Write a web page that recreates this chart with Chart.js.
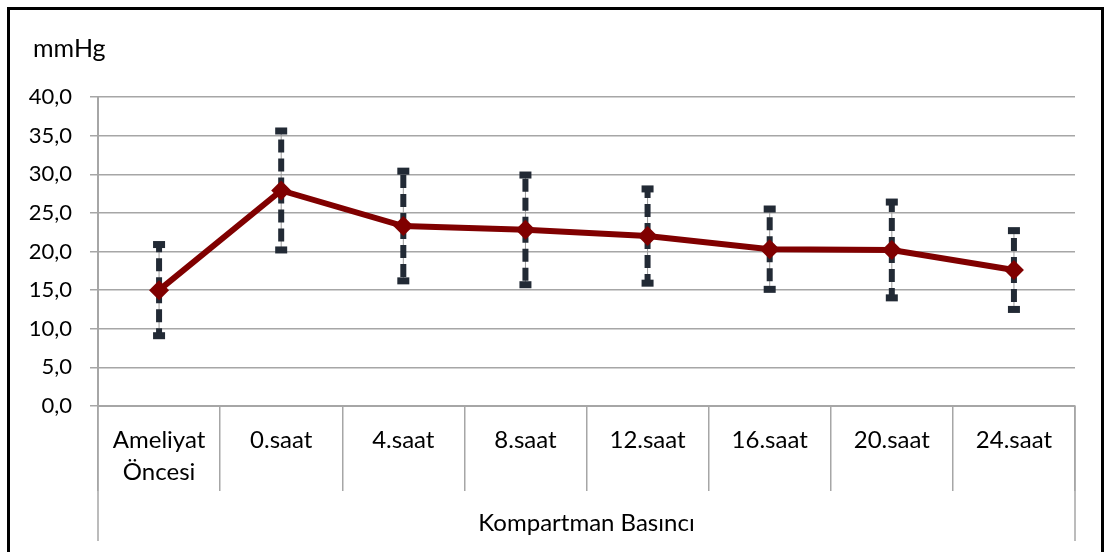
<!DOCTYPE html>
<html>
<head>
<meta charset="utf-8">
<script src="https://cdn.jsdelivr.net/npm/chart.js@4/dist/chart.umd.min.js"></script>
<style>
  html, body { margin: 0; padding: 0; background: #fff; }
  #wrap { width: 1105px; height: 552px; position: relative; }
</style>
</head>
<body>
<div id="wrap"><canvas id="c" width="1105" height="552"></canvas></div>
<script>
// Compartment pressure (mmHg), mean ± SD per time point
const categories = [['Ameliyat', 'Öncesi'], '0.saat', '4.saat', '8.saat', '12.saat', '16.saat', '20.saat', '24.saat'];
const meanValues = [15.0, 27.9, 23.3, 22.8, 22.0, 20.3, 20.2, 17.6];
const sdValues   = [5.9, 7.7, 7.1, 7.1, 6.1, 5.2, 6.2, 5.1];
const yTicks = [0, 5, 10, 15, 20, 25, 30, 35, 40];
const unitLabel = 'mmHg';
const groupLabel = 'Kompartman Basıncı';

const FONT = 'Lato, "Open Sans", sans-serif';
const GRID = '#a6a6a6';
const LINE = '#800000';
const BAR = '#222a35';

// Frame, unit label and the outer edges of the category table
const decorPlugin = {
  id: 'decor',
  beforeDraw(chart) {
    const ctx = chart.ctx;
    ctx.save();
    ctx.fillStyle = '#fff';
    ctx.fillRect(0, 0, chart.width, chart.height);
    ctx.restore();
  },
  afterDraw(chart) {
    const ctx = chart.ctx;
    const a = chart.chartArea;
    ctx.save();
    ctx.strokeStyle = GRID;
    ctx.lineWidth = 1.5;
    ctx.beginPath();
    ctx.moveTo(a.left, a.bottom);
    ctx.lineTo(a.left, 541);
    ctx.moveTo(a.right, a.bottom);
    ctx.lineTo(a.right, 541);
    ctx.stroke();

    ctx.fillStyle = '#000';
    ctx.font = '25px ' + FONT;
    ctx.textBaseline = 'alphabetic';
    ctx.textAlign = 'left';
    ctx.fillText(unitLabel, 33, 57);

    ctx.strokeStyle = '#000';
    ctx.lineWidth = 3;
    ctx.strokeRect(8.5, 8.5, 1094, 600);
    ctx.restore();
  }
};

// Mean ± SD whiskers drawn through the y scale
const errorBarPlugin = {
  id: 'errorBars',
  beforeDatasetsDraw(chart) {
    const ctx = chart.ctx;
    const xs = chart.scales.x, ys = chart.scales.y;
    ctx.save();
    meanValues.forEach((m, i) => {
      const x = xs.getPixelForValue(i);
      const yHi = ys.getPixelForValue(m + sdValues[i]);
      const yLo = ys.getPixelForValue(m - sdValues[i]);
      const yM = ys.getPixelForValue(m);
      // thin guide line
      ctx.setLineDash([]);
      ctx.strokeStyle = '#9a9a9a';
      ctx.lineWidth = 1;
      ctx.beginPath();
      ctx.moveTo(x, yHi);
      ctx.lineTo(x, yLo);
      ctx.stroke();
      // dashed heavy stroke, running outward from the mean
      ctx.strokeStyle = BAR;
      ctx.lineWidth = 6;
      ctx.setLineDash([13, 6]);
      ctx.beginPath();
      ctx.moveTo(x, yM);
      ctx.lineTo(x, yHi);
      ctx.moveTo(x, yM);
      ctx.lineTo(x, yLo);
      ctx.stroke();
      // caps
      ctx.setLineDash([]);
      ctx.fillStyle = BAR;
      ctx.fillRect(x - 6, yHi - 3.5, 12, 7);
      ctx.fillRect(x - 6, yLo - 3.5, 12, 7);
    });
    ctx.restore();
  }
};

new Chart(document.getElementById('c'), {
  type: 'line',
  data: {
    labels: categories,
    datasets: [{
      data: meanValues,
      borderColor: LINE,
      backgroundColor: LINE,
      borderWidth: 6,
      pointStyle: 'rectRot',
      pointRadius: 10,
      pointHoverRadius: 10,
      pointBorderWidth: 0,
      tension: 0
    }]
  },
  options: {
    responsive: false,
    animation: false,
    events: [],
    layout: { padding: { top: 97, left: 0, right: 30, bottom: 0 } },
    plugins: {
      legend: { display: false },
      tooltip: { enabled: false },
      title: { display: false }
    },
    scales: {
      x: {
        type: 'category',
        offset: true,
        grid: {
          offset: true,
          drawOnChartArea: false,
          drawTicks: true,
          tickLength: 85,
          color: GRID,
          lineWidth: 1.5
        },
        border: { display: true, color: GRID, width: 2 },
        ticks: {
          color: '#000',
          font: { family: FONT, size: 24, lineHeight: 1.3 },
          padding: -66,
          maxRotation: 0,
          autoSkip: false
        },
        title: {
          display: true,
          text: groupLabel,
          color: '#000',
          font: { family: FONT, size: 24 },
          padding: { top: 0, bottom: 14 }
        },
        afterFit(scale) { scale.height = 552 - 406; }
      },
      y: {
        min: 0,
        max: 40,
        afterBuildTicks(scale) { scale.ticks = yTicks.map(v => ({ value: v })); },
        grid: {
          color: GRID,
          lineWidth: 1.5,
          tickLength: 8
        },
        border: { display: true, color: GRID, width: 2 },
        ticks: {
          color: '#000',
          font: { family: FONT, size: 22 },
          padding: 18,
          callback: v => v.toFixed(1).replace('.', ',')
        },
        afterFit(scale) { scale.width = 98; }
      }
    }
  },
  plugins: [decorPlugin, errorBarPlugin]
});
</script>
</body>
</html>
